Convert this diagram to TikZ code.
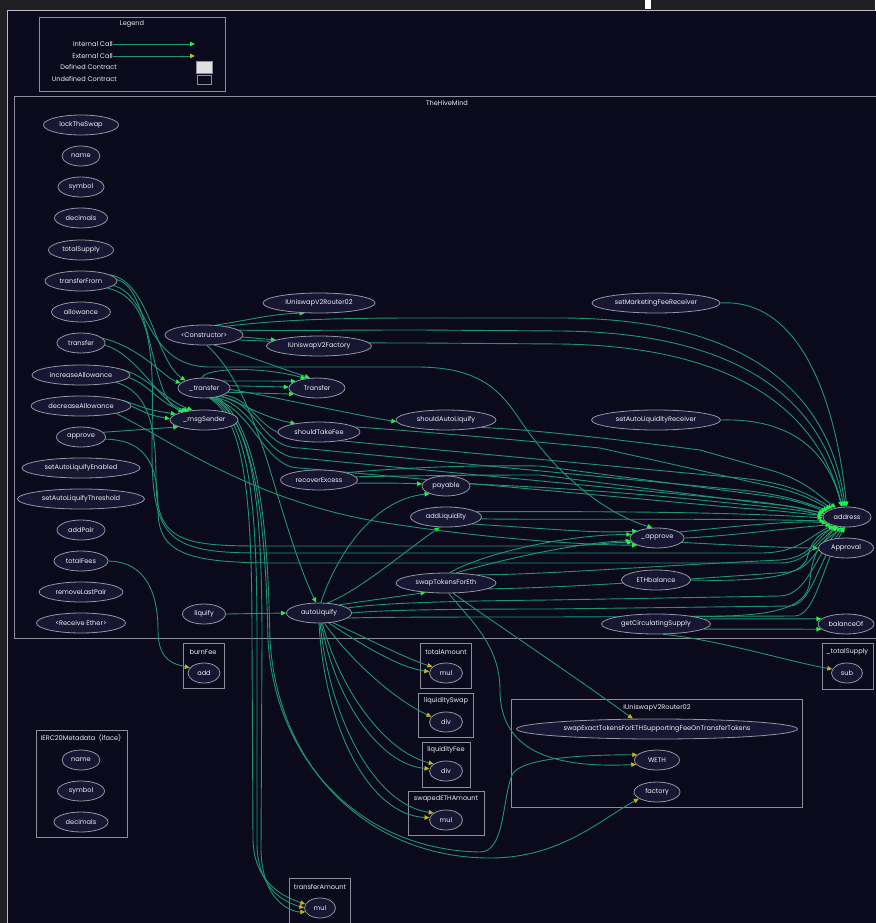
\documentclass[tikz,border=0pt]{standalone}
\usepackage{fontspec}
\setmainfont{Poppins}
\usetikzlibrary{shapes.geometric,arrows.meta}
\definecolor{frame}{HTML}{1F1F24}
\definecolor{canvas}{HTML}{0A0A1C}
\definecolor{clus}{HTML}{8E8E9A}
\definecolor{nodefill}{HTML}{171733}
\definecolor{nodeline}{HTML}{9494A2}
\definecolor{txt}{HTML}{EEEEF4}
\definecolor{edgec}{HTML}{1E9673}
\definecolor{igreen}{HTML}{22F04A}
\definecolor{eyellow}{HTML}{C8B418}
\pgfdeclarelayer{bgl}
\pgfdeclarelayer{edl}
\pgfsetlayers{bgl,edl,main}
\newcommand{\lbl}[1]{\makebox[0pt]{#1}}
\tikzset{
 fn/.style={ellipse, draw=nodeline, fill=nodefill, line width=0.8pt, inner sep=0pt, minimum height=20pt, text=txt, font=\fontsize{6.6}{7.5}\selectfont},
 ie/.style={draw=edgec, line width=0.9pt, -{Triangle[length=5pt,width=4.4pt,color=igreen]}},
 ee/.style={draw=edgec, line width=0.9pt, -{Triangle[length=5pt,width=4.4pt,color=eyellow]}},
 clbox/.style={draw=clus, line width=0.8pt},
 ctitle/.style={text=txt, font=\fontsize{6.6}{7.5}\selectfont, inner sep=0pt},
}
\begin{document}
\begin{tikzpicture}[x=1pt,y=-1pt]
\useasboundingbox (0,0) rectangle (875,923);
\begin{pgfonlayer}{bgl}
\fill[frame] (0,0) rectangle (875,923);
\fill[canvas] (7,10) rectangle (876,924);
\draw[clus!60, line width=0.8pt] (7,924) -- (7,10) -- (876,10);
\fill[white] (645,0) rectangle (651,9);
\draw[clbox] (39,17) rectangle (225,91);
\fill[black!12] (196,61) rectangle (212,73);
\draw[clus, line width=0.6pt] (196,61) rectangle (212,73);
\draw[clus, line width=0.6pt] (197,75) rectangle (211,84);
\draw[clbox] (14,96) rectangle (878,638);
\draw[clbox] (183,643) rectangle (224,688);
\draw[clbox] (420,643) rectangle (471,688);
\draw[clbox] (418,693) rectangle (473,737);
\draw[clbox] (422,742) rectangle (470,787);
\draw[clbox] (408,791) rectangle (484,835);
\draw[clbox] (289,878) rectangle (350,926);
\draw[clbox] (822,643) rectangle (873,689);
\draw[clbox] (511,699) rectangle (802,807);
\draw[clbox] (36,730) rectangle (127,837);
\end{pgfonlayer}

% legend
\node[ctitle] (lgt) at (132,24) {Legend};
\node[ctitle, anchor=east] (lic) at (113,44) {Internal Call};
\node[ctitle, anchor=east] (lec) at (113,56) {External Call};
\node[ctitle, anchor=east] (ldc) at (117,67) {Defined Contract};
\node[ctitle, anchor=east] (luc) at (117,79) {Undefined Contract};
\coordinate (lia) at (195,44);
\coordinate (lea) at (195,56);

% cluster titles
\node[ctitle] (thm) at (447,103) {TheHiveMind};
\node[ctitle] (tbf) at (203,652) {burnFee};
\node[ctitle] (tta) at (446,652) {totalAmount};
\node[ctitle] (tls) at (446,701) {liquiditySwap};
\node[ctitle] (tlf) at (446,750) {liquidityFee};
\node[ctitle] (tse) at (446,799) {swapedETHAmount};
\node[ctitle] (ttr) at (320,887) {transferAmount};
\node[ctitle] (tts) at (847,652) {\_totalSupply};
\node[ctitle] (tru) at (657,708) {IUniswapV2Router02};
\node[ctitle] (tie) at (81,738) {IERC20Metadata\ \ (iface)};

% left column
\node[fn,minimum width=75pt] (lts) at (81,125) {\lbl{lockTheSwap}};
\node[fn,minimum width=38pt] (nm) at (81,156) {\lbl{name}};
\node[fn,minimum width=46pt] (sym) at (81,187) {\lbl{symbol}};
\node[fn,minimum width=53pt] (dec) at (81,218) {\lbl{decimals}};
\node[fn,minimum width=65pt] (ts) at (81,250) {\lbl{totalSupply}};
\node[fn,minimum width=72pt] (tf) at (81,281) {\lbl{transferFrom}};
\node[fn,minimum width=59pt] (alw) at (81,312) {\lbl{allowance}};
\node[fn,minimum width=48pt] (tfr) at (81,343) {\lbl{transfer}};
\node[fn,minimum width=98pt] (ia) at (81,375) {\lbl{increaseAllowance}};
\node[fn,minimum width=100pt] (da) at (81,406) {\lbl{decreaseAllowance}};
\node[fn,minimum width=49pt] (apv) at (81,437) {\lbl{approve}};
\node[fn,minimum width=118pt] (sae) at (81,468) {\lbl{setAutoLiquifyEnabled}};
\node[fn,minimum width=127pt] (sat) at (81,499) {\lbl{setAutoLiquifyThreshold}};
\node[fn,minimum width=48pt] (adp) at (81,530) {\lbl{addPair}};
\node[fn,minimum width=54pt] (tfe) at (81,561) {\lbl{totalFees}};
\node[fn,minimum width=84pt] (rlp) at (81,592) {\lbl{removeLastPair}};
\node[fn,minimum width=89pt] (rcv) at (81,623) {\lbl{<Receive Ether>}};

% middle
\node[fn,minimum width=112pt] (r02) at (319,303) {\lbl{IUniswapV2Router02}};
\node[fn,minimum width=78pt] (ctor) at (204,335) {\lbl{<Constructor>}};
\node[fn,minimum width=105pt] (fac) at (319,346) {\lbl{IUniswapV2Factory}};
\node[fn,minimum width=52pt] (tr) at (204,388) {\lbl{\_transfer}};
\node[fn,minimum width=56pt] (trf) at (317,388) {\lbl{Transfer}};
\node[fn,minimum width=68pt] (ms) at (204,420) {\lbl{\_msgSender}};
\node[fn,minimum width=82pt] (stf) at (319,432) {\lbl{shouldTakeFee}};
\node[fn,minimum width=100pt] (sal) at (446,420) {\lbl{shouldAutoLiquify}};
\node[fn,minimum width=77pt] (rex) at (319,480) {\lbl{recoverExcess}};
\node[fn,minimum width=48pt] (pay) at (446,486) {\lbl{payable}};
\node[fn,minimum width=71pt] (adl) at (446,517) {\lbl{addLiquidity}};
\node[fn,minimum width=100pt] (ste) at (446,583) {\lbl{swapTokensForEth}};
\node[fn,minimum width=43pt] (lq) at (204,614) {\lbl{liquify}};
\node[fn,minimum width=65pt] (al) at (319,613) {\lbl{autoLiquify}};

% right
\node[fn,minimum width=128pt] (smf) at (656,303) {\lbl{setMarketingFeeReceiver}};
\node[fn,minimum width=129pt] (sar) at (656,420) {\lbl{setAutoLiquidityReceiver}};
\node[fn,minimum width=54pt] (ap) at (657,538) {\lbl{\_approve}};
\node[fn,minimum width=69pt] (eth) at (656,580) {\lbl{ETHbalance}};
\node[fn,minimum width=109pt] (gcs) at (656,624) {\lbl{getCirculatingSupply}};
\node[fn,minimum width=48pt] (addr) at (847,517) {\lbl{address}};
\node[fn,minimum width=55pt] (apl) at (846,548) {\lbl{Approval}};
\node[fn,minimum width=56pt] (bal) at (846,624) {\lbl{balanceOf}};

% bottom clusters
\node[fn,minimum width=32pt] (add) at (204,673) {\lbl{add}};
\node[fn,minimum width=33pt] (tam1) at (446,673) {\lbl{mul}};
\node[fn,minimum width=33pt] (lsd) at (446,722) {\lbl{div}};
\node[fn,minimum width=33pt] (lfd) at (446,771) {\lbl{div}};
\node[fn,minimum width=33pt] (sem) at (446,820) {\lbl{mul}};
\node[fn,minimum width=31pt] (tam2) at (320,908) {\lbl{mul}};
\node[fn,minimum width=31pt] (sub) at (847,673) {\lbl{sub}};
\node[fn,minimum width=281pt] (sx) at (657,729) {\lbl{swapExactTokensForETHSupportingFeeOnTransferTokens}};
\node[fn,minimum width=45pt] (weth) at (657,760) {\lbl{WETH}};
\node[fn,minimum width=46pt] (fct) at (657,792) {\lbl{factory}};
\node[fn,minimum width=38pt] (n2) at (81,760) {\lbl{name}};
\node[fn,minimum width=47pt] (s2) at (81,791) {\lbl{symbol}};
\node[fn,minimum width=54pt] (d2) at (81,822) {\lbl{decimals}};

\begin{pgfonlayer}{edl}
% legend arrows
\draw[ie] (lic.east) -- (lia);
\draw[ee] (lec.east) -- (lea);
% constructor
\draw[ie] (ctor.40) .. controls (250,320) and (270,314) .. (r02.215);
\draw[ie] (ctor.-3) -- (fac.172);
\draw[ie] (ctor.22) .. controls (280,320) and (330,318) .. (420,318) -- (560,318) .. controls (700,318) and (825,360) .. (addr.100);
\draw[ie] (ctor.8) .. controls (270,331) and (320,330) .. (420,330) -- (560,331) .. controls (710,332) and (820,380) .. (addr.107);
\draw[ie] (ctor.-8) .. controls (280,342) and (330,343) .. (420,343) -- (560,344) .. controls (720,346) and (815,400) .. (addr.115);
\draw[ie] (ctor.-45) .. controls (245,355) and (280,368) .. (trf.125);
\draw[ie] (ctor.-75) .. controls (235,370) and (255,420) .. (270,470) .. controls (285,520) and (300,570) .. (al.105);
% _transfer
\draw[ie] (tr.20) -- (trf.162);
\draw[ie] (tr.5) -- (trf.178);
\draw[ie] (tr.-10) -- (trf.195);
\draw[ie] (tr.100) .. controls (205,368) and (260,366) .. (trf.140);
\draw[ie] (tr.-25) .. controls (245,405) and (265,418) .. (stf.160);
\draw[ie] (tr.-3) .. controls (280,398) and (340,412) .. (sal.182);
\draw[ie] (tr.-20) .. controls (255,398) and (258,437) .. (300,437) -- (740,478) .. controls (790,483) and (810,495) .. (addr.150);
\draw[ie] (tr.-30) .. controls (258,400) and (260,448) .. (300,448) -- (740,490) .. controls (790,495) and (810,505) .. (addr.160);
\draw[ie] (tr.-40) .. controls (256,405) and (262,458) .. (300,458) -- (740,500) .. controls (785,504) and (805,510) .. (addr.170);
\draw[ie] (tr.-50) .. controls (254,410) and (264,468) .. (300,468) -- (740,508) .. controls (785,511) and (805,514) .. (addr.176);
\draw[ee] (tr.-62) .. controls (248,420) and (252,520) .. (252,640) -- (253,840) .. controls (254,880) and (280,896) .. (tam2.165);
\draw[ee] (tr.-56) .. controls (252,420) and (257,520) .. (257,640) -- (257,845) .. controls (258,890) and (285,902) .. (tam2.180);
\draw[ee] (tr.-50) .. controls (256,420) and (262,520) .. (262,640) -- (261,850) .. controls (262,900) and (290,912) .. (tam2.195);
\draw[ee] (tr.-40) .. controls (262,430) and (266,560) .. (268,640) .. controls (275,760) and (360,850) .. (480,852) .. controls (505,852) and (502,800) .. (512,775) .. controls (520,758) and (580,755) .. (weth.165);
\draw[ee] (tr.-35) .. controls (265,430) and (268,560) .. (270,640) .. controls (278,770) and (370,858) .. (490,858) .. controls (560,858) and (600,820) .. (fct.200);
% swapTokensForEth
\draw[ee] (ste.-55) .. controls (490,620) and (580,680) .. (sx.157);
\draw[ee] (ste.-75) .. controls (470,620) and (500,645) .. (500,690) .. controls (500,755) and (560,768) .. (weth.192);
\draw[ie] (ste.70) .. controls (480,555) and (560,535) .. (ap.172);
\draw[ie] (ste.45) .. controls (500,560) and (580,542) .. (ap.186);
\draw[ie] (ste.15) .. controls (540,575) and (650,566) .. (780,560) .. controls (810,558) and (815,540) .. (addr.215);
\draw[ie] (ste.-8) .. controls (560,588) and (680,580) .. (790,572) .. controls (812,568) and (818,545) .. (addr.225);
% autoLiquify
\draw[ie] (lq.east) -- (al.west);
\draw[ie] (al.80) .. controls (335,560) and (370,500) .. (pay.205);
\draw[ie] (al.50) .. controls (360,590) and (400,555) .. (adl.238);
\draw[ie] (al.22) -- (ste.205);
\draw[ie] (al.10) .. controls (380,603) and (450,601) .. (550,600) -- (780,596) .. controls (808,595) and (815,555) .. (addr.240);
\draw[ie] (al.0) .. controls (380,610) and (450,609) .. (550,609) -- (790,606) .. controls (812,605) and (818,560) .. (addr.250);
\draw[ie] (al.-10) .. controls (380,617) and (450,617) .. (550,617) -- (795,616) .. controls (816,615) and (822,565) .. (addr.258);
\draw[ee] (al.-35) .. controls (370,640) and (410,660) .. (tam1.155);
\draw[ee] (al.-45) .. controls (362,645) and (400,668) .. (tam1.175);
\draw[ee] (al.-62) .. controls (350,660) and (395,700) .. (lsd.160);
\draw[ee] (al.-72) .. controls (340,690) and (385,752) .. (lfd.150);
\draw[ee] (al.-78) .. controls (335,700) and (380,765) .. (lfd.172);
\draw[ee] (al.-84) .. controls (330,720) and (375,805) .. (sem.150);
\draw[ee] (al.-90) .. controls (325,730) and (370,815) .. (sem.172);
% recoverExcess, payable, addLiquidity
\draw[ie] (rex.-5) .. controls (380,483) and (400,483) .. (pay.175);
\draw[ie] (rex.15) .. controls (400,468) and (460,465) .. (540,466) -- (760,495) .. controls (795,499) and (810,506) .. (addr.165);
\draw[ie] (rex.5) .. controls (400,476) and (460,475) .. (540,475) -- (760,503) .. controls (795,506) and (810,510) .. (addr.172);
\draw[ie] (pay.5) .. controls (520,486) and (600,490) .. (700,500) -- (770,507) .. controls (800,510) and (810,512) .. (addr.178);
\draw[ie] (adl.10) .. controls (520,512) and (700,510) .. (addr.182);
\draw[ie] (adl.-3) .. controls (540,520) and (720,518) .. (addr.190);
\draw[ie] (adl.-15) .. controls (540,528) and (600,534) .. (ap.160);
% _approve
\draw[ie] (ap.15) .. controls (720,528) and (790,520) .. (addr.196);
\draw[ie] (ap.0) .. controls (730,536) and (790,528) .. (addr.205);
\draw[ie] (ap.-10) .. controls (730,545) and (790,548) .. (apl.west);
% should*
\draw[ie] (sal.-12) .. controls (540,430) and (620,440) .. (700,450) -- (770,470) .. controls (805,480) and (818,495) .. (addr.140);
\draw[ie] (stf.8) .. controls (400,430) and (500,438) .. (600,448) -- (765,485) .. controls (800,492) and (812,500) .. (addr.155);
% setters
\draw[ie] (smf.east) .. controls (800,298) and (836,400) .. (addr.92);
\draw[ie] (sar.east) .. controls (790,418) and (828,450) .. (addr.118);
% ETHbalance, getCirculatingSupply
\draw[ie] (eth.east) .. controls (770,582) and (805,575) .. (808,555) .. controls (812,540) and (820,532) .. (addr.232);
\draw[ie] (gcs.12) .. controls (770,617) and (808,610) .. (810,580) .. controls (812,550) and (825,538) .. (addr.262);
\draw[ie] (gcs.6) -- (bal.168);
\draw[ie] (gcs.-6) -- (bal.192);
\draw[ee] (gcs.-55) .. controls (720,640) and (790,662) .. (sub.165);
% left column
\draw[ie] (tf.12) .. controls (150,282) and (155,360) .. (tr.158);
\draw[ie] (tf.2) .. controls (152,288) and (150,400) .. (ms.158);
\draw[ie] (tf.-8) .. controls (150,295) and (145,367) .. (210,367) -- (420,367) .. controls (480,368) and (500,390) .. (520,420) .. controls (560,480) and (610,515) .. (ap.115);
\draw[ie] (tf.-15) .. controls (160,300) and (152,380) .. (152,450) .. controls (152,540) and (170,553) .. (260,553) -- (760,553) .. controls (800,553) and (810,535) .. (addr.212);
\draw[ie] (tfr.12) .. controls (140,347) and (165,378) .. (tr.168);
\draw[ie] (tfr.-5) .. controls (140,356) and (160,405) .. (ms.148);
\draw[ie] (ia.8) .. controls (150,378) and (165,400) .. (ms.140);
\draw[ie] (ia.-3) .. controls (150,385) and (160,405) .. (ms.152);
\draw[ie] (ia.-12) .. controls (150,392) and (156,430) .. (156,480) .. controls (156,540) and (180,546) .. (260,546) -- (560,546) .. controls (590,546) and (610,542) .. (ap.190);
\draw[ie] (da.8) .. controls (150,410) .. (ms.168);
\draw[ie] (da.0) .. controls (150,415) .. (ms.178);
\draw[ie] (da.-12) .. controls (170,440) and (250,500) .. (380,522) .. controls (480,538) and (580,545) .. (ap.200);
\draw[ie] (apv.12) -- (ms.195);
\draw[ie] (apv.-5) .. controls (150,440) and (158,470) .. (158,510) .. controls (158,555) and (190,563) .. (280,563) -- (780,563) .. controls (806,563) and (815,545) .. (addr.222);
\draw[ee] (tfe.east) .. controls (150,562) and (158,600) .. (158,630) .. controls (158,662) and (175,664) .. (add.160);
\end{pgfonlayer}
\end{tikzpicture}
\end{document}
